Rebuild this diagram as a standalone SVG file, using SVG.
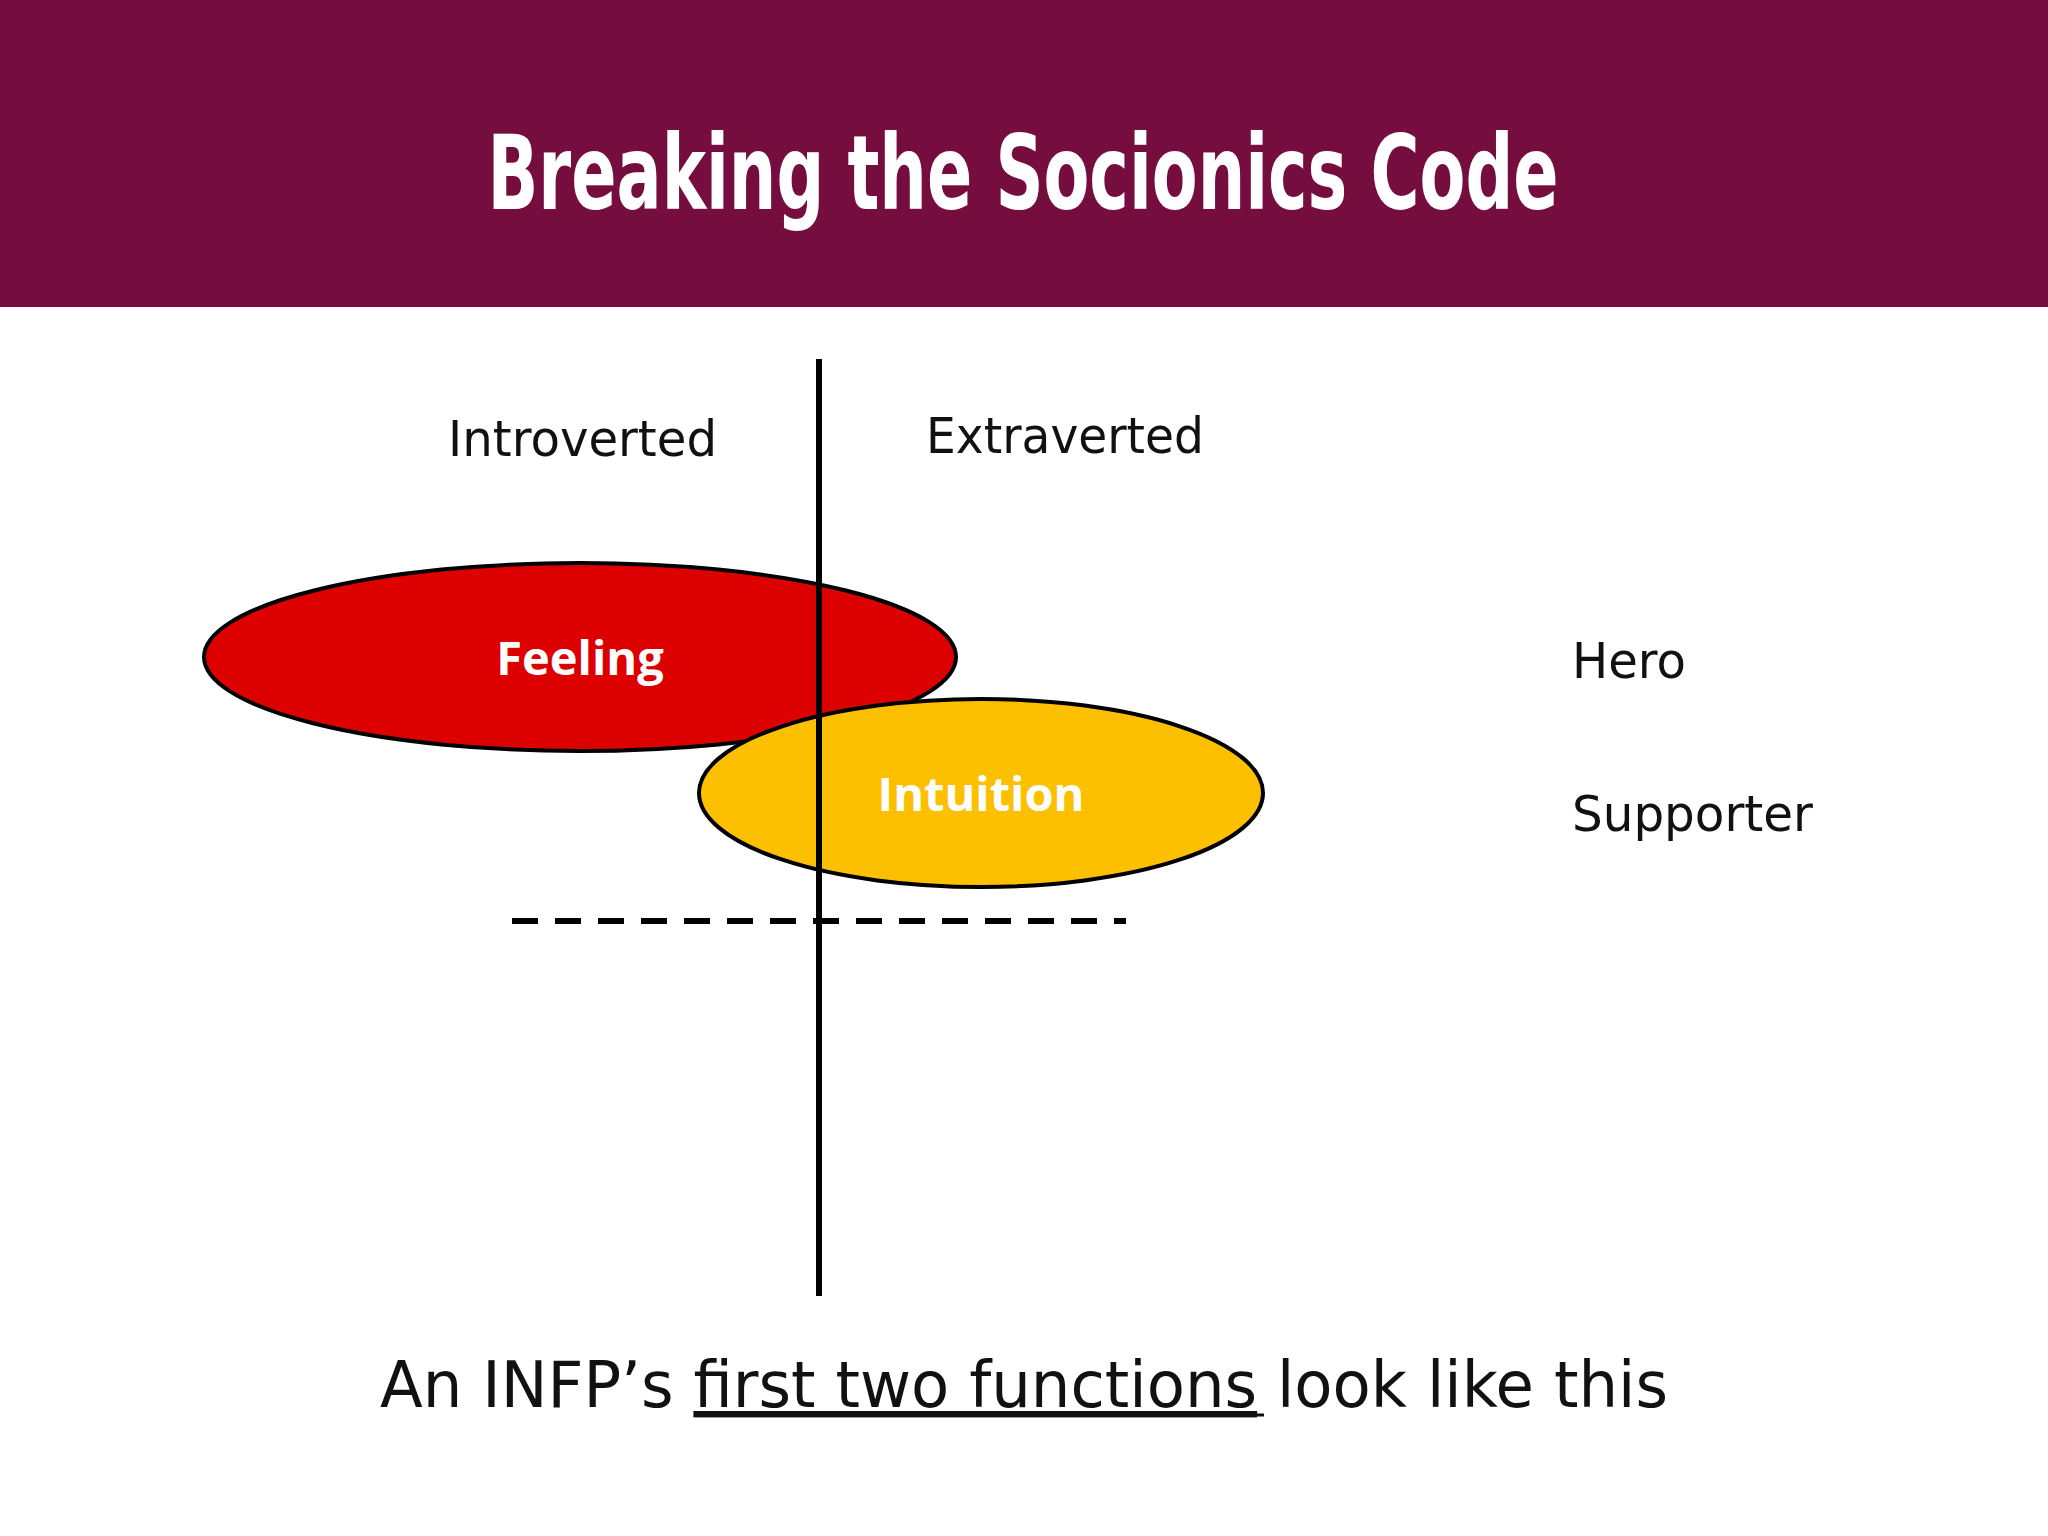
<svg xmlns="http://www.w3.org/2000/svg" width="2048" height="1536" viewBox="0 0 2048 1536">
<style>
.lbl{font-family:"DejaVu Sans","Liberation Sans",sans-serif;font-size:50px;fill:#111}
.nd{font-family:"Open Sans","DejaVu Sans",sans-serif;font-weight:bold;font-size:47px;fill:#fff;text-anchor:middle}
.ell{stroke:#000;stroke-width:4}
</style>
<rect x="0" y="0" width="2048" height="1536" fill="#fff"/>
<rect x="0" y="0" width="2048" height="307" fill="#750d3e"/>
<text x="1023" y="209" text-anchor="middle" font-family="DejaVu Sans Condensed,Liberation Sans Narrow,sans-serif" font-weight="bold" font-stretch="condensed" font-size="104" fill="#fff" textLength="1071" lengthAdjust="spacingAndGlyphs">Breaking the Socionics Code</text>
<text class="lbl" x="448" y="456" textLength="269" lengthAdjust="spacingAndGlyphs">Introverted</text>
<text class="lbl" x="926" y="453" textLength="278" lengthAdjust="spacingAndGlyphs">Extraverted</text>
<text class="lbl" x="1572" y="678" textLength="114" lengthAdjust="spacingAndGlyphs">Hero</text>
<text class="lbl" x="1572" y="831" textLength="241" lengthAdjust="spacingAndGlyphs">Supporter</text>
<g id="feeling"><ellipse class="ell" cx="580" cy="657" rx="376" ry="94" fill="#dd0000"/><text class="nd" x="580" y="675">Feeling</text></g>
<g id="intuition"><ellipse class="ell" cx="981" cy="793" rx="282" ry="94" fill="#fdc000"/><text class="nd" x="981" y="811">Intuition</text></g>
<g id="connectors">
<line x1="819" y1="359" x2="819" y2="1296" stroke="#000" stroke-width="6"/>
<line x1="512" y1="921" x2="1126" y2="921" stroke="#000" stroke-width="6" stroke-dasharray="26 17"/>
</g>
<text x="380" y="1407" font-family="DejaVu Sans,Liberation Sans,sans-serif" font-size="64" fill="#111" textLength="1288" lengthAdjust="spacingAndGlyphs">An INFP’s <tspan text-decoration="underline">first two functions</tspan> look like this</text>
<line x1="699" y1="1415" x2="1264" y2="1415" stroke="#111" stroke-width="3"/>
</svg>
